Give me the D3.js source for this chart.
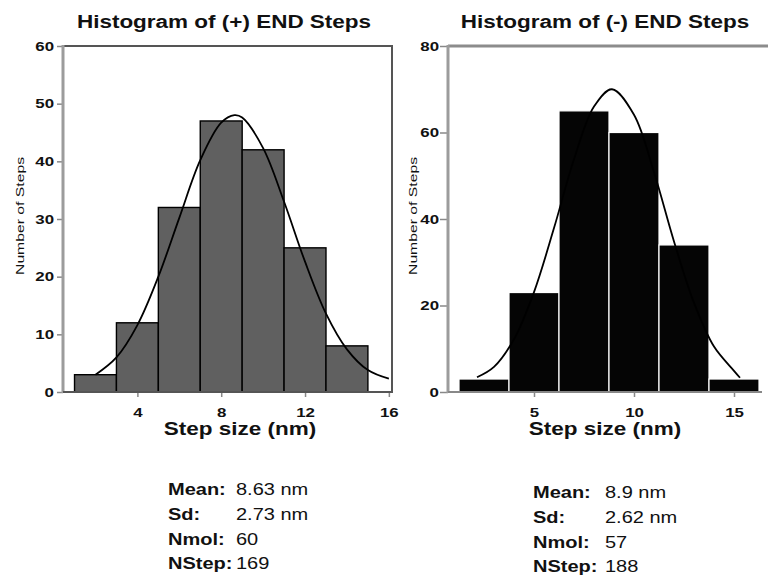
<!DOCTYPE html>
<html>
<head>
<meta charset="utf-8">
<script src="https://cdn.jsdelivr.net/npm/d3@7"></script>
<style>
  html, body { margin: 0; padding: 0; background: #fff; }
  svg { display: block; font-family: "Liberation Sans", Arial, sans-serif; }
</style>
</head>
<body>
<svg id="chart" width="768" height="578"></svg>
<script>
// (+) END step histogram
const plusBinEdges = [1, 3, 5, 7, 9, 11, 13, 15];
const plusCounts = [3, 12, 32, 47, 42, 25, 8];
const plusCurveX = [2, 3, 4, 5, 6, 7, 8, 8.63, 9, 10, 11, 12, 13, 14, 15, 16];
const plusCurveY = [3.0, 6.0, 11.6, 20.0, 30.2, 40.2, 46.7, 48, 47.6, 42.3, 33.0, 22.6, 13.6, 7.4, 3.8, 2.3];
const plusYTicks = [0, 10, 20, 30, 40, 50, 60];
const plusXTicks = [4, 8, 12, 16];

// (-) END step histogram
const minusBinEdges = [1.25, 3.75, 6.25, 8.75, 11.25, 13.75, 16.25];
const minusCounts = [3, 23, 65, 60, 34, 3];
const minusCurveX = [2.15, 3, 4, 5, 6, 7, 8, 8.9, 10, 11, 12, 13, 14, 15, 15.3];
const minusCurveY = [3.4, 5.8, 12.2, 23.1, 37.9, 53.8, 66.0, 70, 64.1, 50.8, 34.8, 20.6, 10.5, 4.9, 3.3];
const minusYTicks = [0, 20, 40, 60, 80];
const minusXTicks = [5, 10, 15];

// summary statistics
const statLabels = ["Mean:", "Sd:", "Nmol:", "NStep:"];
const plusStats = ["8.63 nm", "2.73 nm", "60", "169"];
const minusStats = ["8.9 nm", "2.62 nm", "57", "188"];

const svg = d3.select("#chart");
const SX = 1.25; // horizontal text stretch

function label(g, x, y, str, size, weight, anchor) {
  return g.append("text")
    .attr("transform", `translate(${x},${y}) scale(${SX},1)`)
    .attr("text-anchor", anchor || "start")
    .attr("font-size", size)
    .attr("font-weight", weight || "normal")
    .attr("fill", "#111")
    .text(str);
}

function histogram(cfg) {
  const g = svg.append("g");
  const x = d3.scaleLinear().domain(cfg.xDomain).range(cfg.xRange);
  const y = d3.scaleLinear().domain([0, cfg.yMax]).range([392, 46]);
  const [x0, x1] = cfg.xRange;

  // frame
  g.append("line").attr("x1", x0).attr("x2", cfg.topEnd).attr("y1", 46).attr("y2", 46)
    .attr("stroke", cfg.frameColor).attr("stroke-width", cfg.frameWidth);
  if (cfg.rightFrame) {
    g.append("line").attr("x1", x1).attr("x2", x1).attr("y1", 46).attr("y2", 392)
      .attr("stroke", cfg.frameColor).attr("stroke-width", 2);
  }

  // bars
  const bins = cfg.counts.map((c, i) => ({ a: cfg.edges[i], b: cfg.edges[i + 1], c }));
  g.selectAll("rect.bar").data(bins).join("rect")
    .attr("class", "bar")
    .attr("x", d => x(d.a))
    .attr("width", d => x(d.b) - x(d.a))
    .attr("y", d => y(d.c))
    .attr("height", d => y(0) - y(d.c))
    .attr("fill", cfg.barFill)
    .attr("stroke", cfg.barStroke)
    .attr("stroke-width", cfg.barStrokeWidth);

  // fitted curve
  const pts = cfg.curveX.map((v, i) => [v, cfg.curveY[i]]);
  g.append("path")
    .datum(pts)
    .attr("fill", "none")
    .attr("stroke", "#000")
    .attr("stroke-width", 1.8)
    .attr("d", d3.line().x(d => x(d[0])).y(d => y(d[1])).curve(d3.curveCatmullRom));

  // y axis
  const ya = g.append("g").attr("transform", `translate(${x0},0)`)
    .call(d3.axisLeft(y).tickValues(cfg.yTicks).tickSize(cfg.yTickSize).tickFormat(d3.format("d")));
  ya.select(".domain").remove();
  ya.selectAll(".tick line").attr("stroke", "#888").attr("stroke-width", 1.5);
  ya.selectAll(".tick text")
    .attr("x", -cfg.yLabelGap / SX)
    .attr("transform", `scale(${SX},1)`)
    .attr("font-size", 13.5).attr("font-weight", "bold").attr("fill", "#111")
    .attr("font-family", "Liberation Sans, Arial, sans-serif");
  g.append("line").attr("x1", x0).attr("x2", x0).attr("y1", 45).attr("y2", 393)
    .attr("stroke", "#9c9c9c").attr("stroke-width", 3);

  // x axis
  const xa = g.append("g").attr("transform", "translate(0,392)")
    .call(d3.axisBottom(x).tickValues(cfg.xTicks).tickSize(5).tickFormat(d3.format("d")));
  xa.select(".domain").remove();
  xa.selectAll(".tick line").attr("stroke", "#888").attr("stroke-width", 1.5);
  xa.selectAll(".tick text")
    .attr("y", 15.5)
    .attr("transform", `scale(${SX},1)`)
    .attr("font-size", 13.5).attr("font-weight", "bold").attr("fill", "#111")
    .attr("font-family", "Liberation Sans, Arial, sans-serif");
  g.append("line").attr("x1", x0).attr("x2", cfg.baseEnd).attr("y1", 392).attr("y2", 392)
    .attr("stroke", cfg.baseColor).attr("stroke-width", 2);

  // titles
  label(g, cfg.titleX, 28, cfg.title, 18, "bold", "middle");
  label(g, cfg.xLabelX, 435, "Step size (nm)", 18, "bold", "middle");
  g.append("text")
    .attr("transform", `translate(${cfg.yLabelX},${cfg.yLabelY}) rotate(-90)`)
    .attr("text-anchor", "middle")
    .attr("font-size", 11.5)
    .attr("fill", "#111")
    .attr("textLength", 118)
    .attr("lengthAdjust", "spacingAndGlyphs")
    .text("Number of Steps");

  // summary block
  cfg.stats.forEach((v, i) => {
    label(g, cfg.statX, cfg.statY[i], statLabels[i], 16, "bold");
    label(g, cfg.valX, cfg.statY[i], v, 16, "normal");
  });
}

histogram({
  xDomain: [0.45, 16.15], xRange: [63, 392], yMax: 60,
  edges: plusBinEdges, counts: plusCounts,
  curveX: plusCurveX, curveY: plusCurveY,
  yTicks: plusYTicks, xTicks: plusXTicks,
  barFill: "#606060", barStroke: "#000", barStrokeWidth: 1.4,
  frameColor: "#555", frameWidth: 2, topEnd: 393, rightFrame: true,
  baseColor: "#555", baseEnd: 393,
  yTickSize: 6, yLabelGap: 9,
  title: "Histogram of (+) END Steps", titleX: 224, xLabelX: 240,
  yLabelX: 24, yLabelY: 216,
  stats: plusStats, statX: 168, valX: 236, statY: [495, 520, 545, 569]
});

histogram({
  xDomain: [0.7, 16.7], xRange: [448, 768], yMax: 80,
  edges: minusBinEdges, counts: minusCounts,
  curveX: minusCurveX, curveY: minusCurveY,
  yTicks: minusYTicks, xTicks: minusXTicks,
  barFill: "#050505", barStroke: "#fff", barStrokeWidth: 1.2,
  frameColor: "#8c8c8c", frameWidth: 3, topEnd: 768, rightFrame: false,
  baseColor: "#888", baseEnd: 762,
  yTickSize: 8, yLabelGap: 9,
  title: "Histogram of (-) END Steps", titleX: 605, xLabelX: 605,
  yLabelX: 417, yLabelY: 216,
  stats: minusStats, statX: 533, valX: 605, statY: [498, 523, 548, 572]
});
</script>
</body>
</html>
